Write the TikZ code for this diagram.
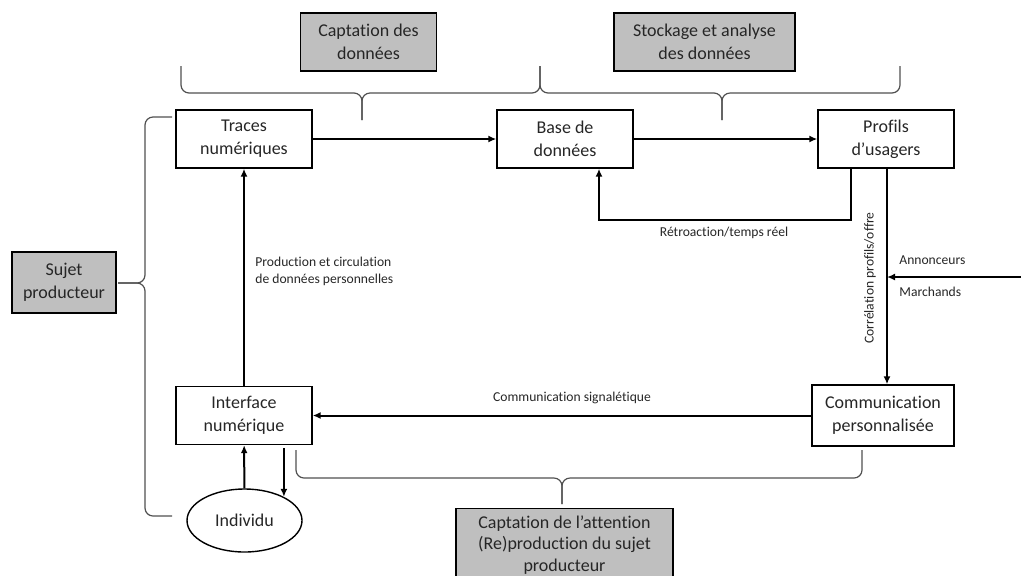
\documentclass[tikz,border=0pt]{standalone}
\usepackage{fontspec}
\setmainfont{Carlito}[Ligatures=NoCommon]
\usetikzlibrary{arrows.meta,shapes.geometric}
\definecolor{boxgray}{RGB}{191,191,191}
\definecolor{bracegray}{RGB}{80,80,80}
\tikzset{
  box/.style={draw, line width=0.7pt, minimum width=68pt, minimum height=29pt,
    align=center, inner sep=1pt, text=black!85, font=\fontsize{9}{11.5}\selectfont},
  graybox/.style={box, fill=boxgray},
  arr/.style={-{Latex[length=4pt,width=3.5pt]}, line width=1pt},
  brace/.style={draw=bracegray, line width=0.6pt, rounded corners=4pt},
  lbl/.style={font=\fontsize{6.8}{8.5}\selectfont, align=left, inner sep=0pt, text=black!85},
}
\begin{document}
\begin{tikzpicture}[x=0.5pt,y=-0.5pt]
    \useasboundingbox (0,0) rectangle (1021,575);

    % Etapes
    \node[graybox] (captation) at (368.5,42) {Captation des\\données};
    \node[graybox, minimum width=90.5pt] (stockage) at (704.5,42) {Stockage et analyse\\des données};
    \node[graybox, minimum width=52pt, minimum height=30.5pt] (sujet) at (64,282.5) {Sujet\\producteur};
    \node[graybox, anchor=north, minimum width=108.5pt, minimum height=36pt,
        font=\fontsize{9}{10.8}\selectfont] (attention) at (564.5,508)
        {Captation de l’attention\\(Re)production du sujet\\producteur};

    % Boites
    \node[box] (traces) at (244,139) {Traces\\numériques};
    \node[box] (base) at (565,139) {Base de\\données};
    \node[box] (profils) at (886,139) {Profils\\d’usagers};
    \node[box] (inter) at (244,415.5) {Interface\\numérique};
    \node[box, minimum width=71pt, minimum height=30.5pt] (comm) at (883,415.5) {Communication\\personnalisée};
    \node[draw, ellipse, line width=0.7pt, minimum width=57.5pt, minimum height=31.5pt, inner sep=0pt,
        text=black!85, font=\fontsize{9}{11.5}\selectfont] (indiv) at (244.5,520.5) {Individu};

    % Accolades
    \draw[brace] (181,66) -- (181,93) -- (362,93) -- (362,120);
    \draw[brace] (540,66) -- (540,93) -- (362,93) -- (362,120);
    \draw[brace] (540,66) -- (540,93) -- (722,93) -- (722,120);
    \draw[brace] (900,66) -- (900,93) -- (722,93) -- (722,120);
    \draw[brace] (172,117) -- (145,117) -- (145,283) -- (118,283);
    \draw[brace] (172,516) -- (145,516) -- (145,283) -- (118,283);
    \draw[brace] (296,450) -- (296,478) -- (562,478) -- (562,504);
    \draw[brace] (862,450) -- (862,478) -- (562,478) -- (562,504);

    % Fleches
    \draw[arr] (traces) -- (base);
    \draw[arr] (base) -- (profils);
    \coordinate (retour) at (851,220);
    \draw[arr] (profils.south -| retour) -- (retour) -| ([xshift=17pt]base.south);
    \node[lbl] (retro) at (724,233) {Rétroaction/temps réel};

    \draw[arr] ([xshift=0.5pt]profils.south) -- ([xshift=0.5pt]profils.south |- comm.north);
    \node[lbl, rotate=90] (correl) at (870,278) {Corrélation profils/offre};

    \coordinate (dehors) at (1021,277);
    \draw[arr] (dehors) -- ([xshift=0.5pt]dehors -| profils.south);
    \node[lbl, anchor=west] (annonceurs) at (899,260) {Annonceurs};
    \node[lbl, anchor=west] (marchands) at (899,292) {Marchands};

    \draw[arr] (comm) -- (inter);
    \node[lbl] (signal) at (572,398) {Communication signalétique};

    \draw[arr] (inter) -- (traces);
    \node[lbl, anchor=west] (production) at (255,271) {Production et circulation\\de données personnelles};

    \draw[arr] (indiv) -- (inter);
    \draw[arr] ([yshift=-1.5pt]inter.south -| indiv.31) -- (indiv.31);
\end{tikzpicture}
\end{document}
